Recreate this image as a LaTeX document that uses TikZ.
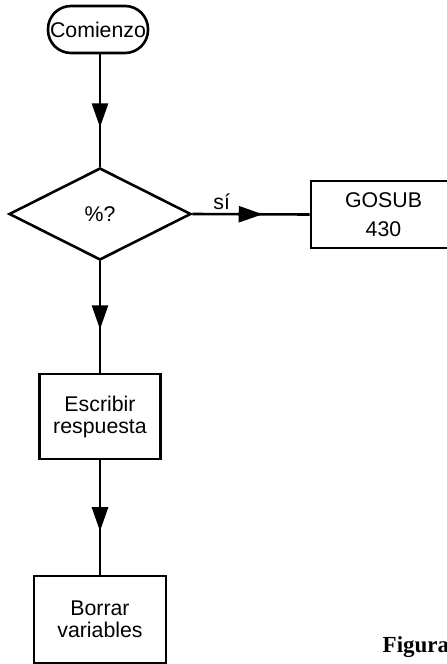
\documentclass[tikz,border=0pt]{standalone}
\usepackage{fontspec}
\setmainfont{Liberation Sans}
\newfontfamily\figfont{Liberation Serif}
\usetikzlibrary{shapes.geometric, decorations.markings}
\usetikzlibrary{arrows.meta}

\tikzset{
  caja/.style={draw, line width=2.6pt, rectangle, align=center, inner sep=0pt},
  flecha/.style={line width=2.6pt, postaction={decorate},
    decoration={markings, mark=at position #1 with {\arrow{Triangle[length=24pt,width=16pt]}}}},
  flecha/.default=0.62
}

\begin{document}
\begin{tikzpicture}[x=1pt, y=-1pt, font=\fontsize{21.3}{22}\selectfont]
\useasboundingbox (0,0) rectangle (447,664);

% Draw start and question
\node[caja, rounded corners=23pt, minimum width=100pt, minimum height=47pt] (comienzo) at (98,29.5) {Comienzo};
\node[draw, diamond, line width=2.6pt, minimum width=182pt, minimum height=92pt, inner sep=0pt] (pregunta) at (100,214) {\%?};

% Draw boxes
\node[caja, minimum width=145pt, minimum height=67pt] (gosub) at (383.5,214.5) {GOSUB\\[7pt]430};
\node[caja, minimum width=121pt, minimum height=85pt] (escribir) at (100,416.5) {Escribir\\respuesta};
\node[caja, minimum width=132pt, minimum height=87pt] (borrar) at (100,619.5) {Borrar\\variables};

% Caption
\node[anchor=base west, inner sep=0pt, font=\figfont\bfseries\fontsize{23}{25}\selectfont] (figura) at (382.5,652) {Figura};

% Draw arrows
\draw[flecha=0.65] (comienzo.south -| pregunta.north) -- (pregunta.north);
\draw[flecha=0.6] (pregunta.east) -- node[above, pos=0.25] (si) {sí} (gosub.west);
\draw[flecha=0.61] (pregunta.south) -- (escribir.north);
\draw[flecha=0.62] (escribir.south) -- (borrar.north);

\end{tikzpicture}
\end{document}
